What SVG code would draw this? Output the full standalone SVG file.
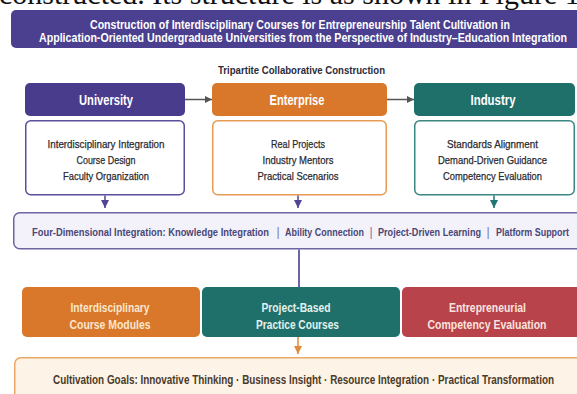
<svg xmlns="http://www.w3.org/2000/svg" width="577" height="394" viewBox="0 0 577 394">
  <defs>
    <style>
      text { font-family: "Liberation Sans", Arial, sans-serif; }
      .serif { font-family: "Liberation Serif", "Times New Roman", serif; font-size: 30px; fill: #111; }
      .title { font-size: 13px; font-weight: bold; fill: #ffffff; }
      .sub { font-size: 10.5px; font-weight: bold; fill: #2b2b3a; }
      .head { font-size: 14.5px; font-weight: bold; fill: #ffffff; }
      .item { font-size: 11.5px; fill: #2a2a30; stroke: #2a2a30; stroke-width: 0.25px; }
      .dim { font-size: 11.5px; font-weight: bold; fill: #4a4678; }
      .bar { font-size: 12px; fill: #7a77a0; }
      .mod { font-size: 13.5px; font-weight: bold; }
      .goal { font-size: 12px; font-weight: bold; fill: #4a3a2a; }
    </style>
    <marker id="ahGray" viewBox="0 0 10 10" refX="10" refY="5" markerWidth="7" markerHeight="7" markerUnits="userSpaceOnUse" orient="auto">
      <path d="M0,0 L10,5 L0,10 z" fill="#555555"/>
    </marker>
    <marker id="ahPurple" viewBox="0 0 10 10" refX="10" refY="5" markerWidth="8" markerHeight="8" markerUnits="userSpaceOnUse" orient="auto">
      <path d="M0,0 L10,5 L0,10 z" fill="#4f4596"/>
    </marker>
    <marker id="ahTeal" viewBox="0 0 10 10" refX="10" refY="5" markerWidth="8" markerHeight="8" markerUnits="userSpaceOnUse" orient="auto">
      <path d="M0,0 L10,5 L0,10 z" fill="#1f7570"/>
    </marker>
    <marker id="ahOrange" viewBox="0 0 10 10" refX="10" refY="5" markerWidth="8" markerHeight="8" markerUnits="userSpaceOnUse" orient="auto">
      <path d="M0,0 L10,5 L0,10 z" fill="#e08a3a"/>
    </marker>
  </defs>

  <rect x="0" y="0" width="577" height="394" fill="#ffffff"/>

  <!-- running text line above the figure -->
  <text class="serif" x="-1" y="4">constructed. Its structure is as shown in Figure 1</text>

  <!-- title banner -->
  <g id="title">
    <rect x="11" y="10" width="572" height="38" rx="5" fill="#4b3f8f"/>
    <text class="title" x="300" y="28.5" text-anchor="middle" textLength="420" lengthAdjust="spacingAndGlyphs">Construction of Interdisciplinary Courses for Entrepreneurship Talent Cultivation in</text>
    <text class="title" x="303" y="42" text-anchor="middle" textLength="528" lengthAdjust="spacingAndGlyphs">Application-Oriented Undergraduate Universities from the Perspective of Industry–Education Integration</text>
  </g>

  <text class="sub" x="301.5" y="74" text-anchor="middle" textLength="167" lengthAdjust="spacingAndGlyphs">Tripartite Collaborative Construction</text>

  <!-- University -->
  <g id="university">
    <rect x="25" y="83" width="160" height="33" rx="5" fill="#4a3c8d"/>
    <text class="head" x="106" y="104.5" text-anchor="middle" textLength="54" lengthAdjust="spacingAndGlyphs">University</text>
    <rect x="25.75" y="120.75" width="158.5" height="74" rx="5" fill="#ffffff" stroke="#5a4f9c" stroke-width="1.5"/>
    <text class="item" x="106" y="147.5" text-anchor="middle" textLength="117" lengthAdjust="spacingAndGlyphs">Interdisciplinary Integration</text>
    <text class="item" x="106" y="163.5" text-anchor="middle" textLength="59" lengthAdjust="spacingAndGlyphs">Course Design</text>
    <text class="item" x="106" y="180" text-anchor="middle" textLength="86" lengthAdjust="spacingAndGlyphs">Faculty Organization</text>
  </g>

  <!-- Enterprise -->
  <g id="enterprise">
    <rect x="212" y="83" width="175" height="33" rx="5" fill="#d9782a"/>
    <text class="head" x="297" y="104.5" text-anchor="middle" textLength="55" lengthAdjust="spacingAndGlyphs">Enterprise</text>
    <rect x="212.75" y="120.75" width="173.5" height="74" rx="5" fill="#ffffff" stroke="#e79a52" stroke-width="1.5"/>
    <text class="item" x="298" y="147.5" text-anchor="middle" textLength="54" lengthAdjust="spacingAndGlyphs">Real Projects</text>
    <text class="item" x="298" y="163.5" text-anchor="middle" textLength="71" lengthAdjust="spacingAndGlyphs">Industry Mentors</text>
    <text class="item" x="298" y="180" text-anchor="middle" textLength="81" lengthAdjust="spacingAndGlyphs">Practical Scenarios</text>
  </g>

  <!-- Industry -->
  <g id="industry">
    <rect x="414" y="83" width="161" height="33" rx="5" fill="#1f6f6a"/>
    <text class="head" x="493" y="104.5" text-anchor="middle" textLength="45" lengthAdjust="spacingAndGlyphs">Industry</text>
    <rect x="414.75" y="120.75" width="159.5" height="74" rx="5" fill="#ffffff" stroke="#3a8782" stroke-width="1.5"/>
    <text class="item" x="492.5" y="147.5" text-anchor="middle" textLength="91" lengthAdjust="spacingAndGlyphs">Standards Alignment</text>
    <text class="item" x="492.5" y="163.5" text-anchor="middle" textLength="109" lengthAdjust="spacingAndGlyphs">Demand-Driven Guidance</text>
    <text class="item" x="492.5" y="180" text-anchor="middle" textLength="99" lengthAdjust="spacingAndGlyphs">Competency Evaluation</text>
  </g>

  <!-- Four-dimensional integration band -->
  <g id="integration">
    <rect x="13.75" y="212.75" width="580" height="36" rx="6" fill="#f3f2fa" stroke="#6b65a3" stroke-width="1.5"/>
    <text class="dim" x="32" y="236" textLength="237" lengthAdjust="spacingAndGlyphs">Four-Dimensional Integration: Knowledge Integration</text>
    <text class="bar" x="278" y="236" text-anchor="middle">|</text>
    <text class="dim" x="285" y="236" textLength="79" lengthAdjust="spacingAndGlyphs">Ability Connection</text>
    <text class="bar" x="371" y="236" text-anchor="middle">|</text>
    <text class="dim" x="378" y="236" textLength="103" lengthAdjust="spacingAndGlyphs">Project-Driven Learning</text>
    <text class="bar" x="488" y="236" text-anchor="middle">|</text>
    <text class="dim" x="496" y="236" textLength="73" lengthAdjust="spacingAndGlyphs">Platform Support</text>
  </g>

  <!-- course modules -->
  <g id="module-interdisciplinary">
    <rect x="22" y="287" width="178" height="50" rx="5" fill="#d9782a"/>
    <text class="mod" x="110" y="311.5" text-anchor="middle" fill="#fbe7cf" textLength="79" lengthAdjust="spacingAndGlyphs">Interdisciplinary</text>
    <text class="mod" x="110" y="329" text-anchor="middle" fill="#fbe7cf" textLength="81" lengthAdjust="spacingAndGlyphs">Course Modules</text>
  </g>
  <g id="module-project">
    <rect x="202" y="287" width="198" height="50" rx="5" fill="#1f6f6a"/>
    <text class="mod" x="296" y="311.5" text-anchor="middle" fill="#e3f2ee" textLength="69" lengthAdjust="spacingAndGlyphs">Project-Based</text>
    <text class="mod" x="297.5" y="329" text-anchor="middle" fill="#e3f2ee" textLength="83" lengthAdjust="spacingAndGlyphs">Practice Courses</text>
  </g>
  <g id="module-evaluation">
    <rect x="402" y="287" width="185" height="50" rx="5" fill="#b8434a"/>
    <text class="mod" x="487.5" y="311.5" text-anchor="middle" fill="#fbe3df" textLength="77" lengthAdjust="spacingAndGlyphs">Entrepreneurial</text>
    <text class="mod" x="487" y="329" text-anchor="middle" fill="#fbe3df" textLength="119" lengthAdjust="spacingAndGlyphs">Competency Evaluation</text>
  </g>

  <!-- cultivation goals -->
  <g id="goals">
    <rect x="14.75" y="357.75" width="580" height="50" rx="6" fill="#fdf3e6" stroke="#eaa866" stroke-width="1.5"/>
    <text class="goal" x="53" y="383.5" textLength="501" lengthAdjust="spacingAndGlyphs">Cultivation Goals: Innovative Thinking · Business Insight · Resource Integration · Practical Transformation</text>
  </g>

  <!-- connectors -->
  <g id="connectors" fill="none">
    <line x1="185" y1="99.5" x2="212" y2="99.5" stroke="#555555" stroke-width="1.5" marker-end="url(#ahGray)"/>
    <line x1="387" y1="99.5" x2="414" y2="99.5" stroke="#555555" stroke-width="1.5" marker-end="url(#ahGray)"/>
    <line x1="105" y1="195.5" x2="105" y2="208" stroke="#4f4596" stroke-width="1.5" marker-end="url(#ahPurple)"/>
    <line x1="298" y1="195.5" x2="298" y2="208" stroke="#4f4596" stroke-width="1.5" marker-end="url(#ahPurple)"/>
    <line x1="494" y1="195.5" x2="494" y2="208" stroke="#1f7570" stroke-width="1.5" marker-end="url(#ahTeal)"/>
    <line x1="299" y1="249.5" x2="299" y2="287" stroke="#6b65a3" stroke-width="2"/>
    <line x1="298" y1="337" x2="298" y2="354" stroke="#e08a3a" stroke-width="1.5" marker-end="url(#ahOrange)"/>
  </g>
</svg>
